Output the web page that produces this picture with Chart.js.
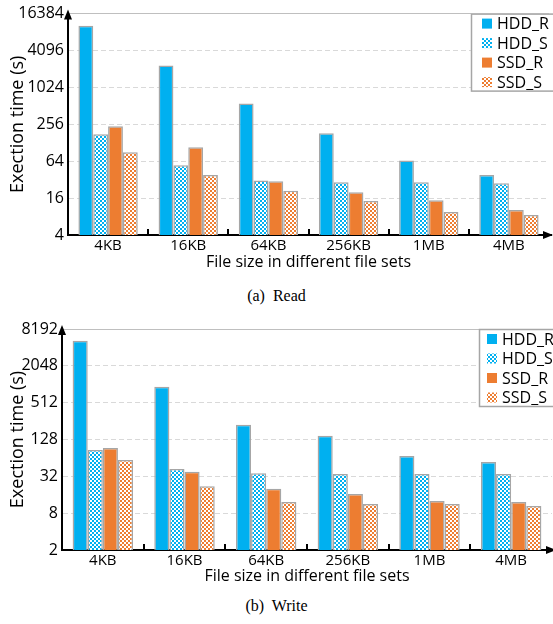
<!DOCTYPE html>
<html>
<head>
<meta charset="utf-8">
<script src="https://cdn.jsdelivr.net/npm/chart.js@4/dist/chart.umd.min.js"></script>
<style>
  body { margin: 0; background: #fff; width: 553px; height: 624px; position: relative; overflow: hidden; }
  canvas { position: absolute; left: 0; }
  .cap { position: absolute; left: 0; width: 553px; text-align: center; font-family: "Liberation Serif", "DejaVu Serif", serif; font-size: 16px; color: #000; }
</style>
</head>
<body>
<canvas id="readChart" width="553" height="280" style="top:0"></canvas>
<div class="cap" style="top:287px">(a)&nbsp; Read</div>
<canvas id="writeChart" width="553" height="292" style="top:300px"></canvas>
<div class="cap" style="top:597px">(b)&nbsp; Write</div>
<script>
const categories = ['4KB', '16KB', '64KB', '256KB', '1MB', '4MB'];
const seriesNames = ['HDD_R', 'HDD_S', 'SSD_R', 'SSD_S'];

const readHddR = [10400, 2340, 560, 183, 66, 38];
const readHddS = [176, 55, 31, 29, 29, 28];
const readSsdR = [238, 108, 30, 20, 14.8, 10.2];
const readSsdS = [90, 38, 21, 14.3, 9.5, 8.5];

const writeHddR = [5250, 930, 222, 147, 69, 55];
const writeHddS = [86, 42, 36, 35, 35, 35];
const writeSsdR = [93, 38, 20, 16.5, 12.7, 12.2];
const writeSsdS = [59, 22, 12.2, 11.3, 11.3, 10.5];

const readTicks = [4, 16, 64, 256, 1024, 4096, 16384];
const writeTicks = [2, 8, 32, 128, 512, 2048, 8192];

const BLUE = '#00b0f0';
const ORANGE = '#ed7d31';
const FONT = '"Open Sans", "Noto Sans", sans-serif';

// small checkerboard fill for the *_S series
function checker(color) {
  const c = document.createElement('canvas');
  c.width = 4; c.height = 4;
  const g = c.getContext('2d');
  g.fillStyle = '#fff';
  g.fillRect(0, 0, 4, 4);
  g.fillStyle = color;
  g.fillRect(0, 0, 2, 2);
  g.fillRect(2, 2, 2, 2);
  return g.createPattern(c, 'repeat');
}

const axisDecor = {
  id: 'axisDecor',
  afterDraw(chart) {
    const { ctx, chartArea: a, scales: { x } } = chart;
    ctx.save();
    ctx.strokeStyle = '#000';
    ctx.fillStyle = '#000';
    ctx.lineWidth = 2;
    // small tick marks between groups, pointing up
    const half = (x.getPixelForTick(1) - x.getPixelForTick(0)) / 2;
    for (let i = 1; i < x.ticks.length; i++) {
      const px = Math.round(x.getPixelForTick(i) - half);
      ctx.beginPath();
      ctx.moveTo(px, a.bottom);
      ctx.lineTo(px, a.bottom - 6);
      ctx.stroke();
    }
    // arrow heads
    ctx.beginPath();
    ctx.moveTo(a.right - 2, a.bottom);
    ctx.lineTo(a.right + 3, a.bottom);
    ctx.stroke();
    ctx.beginPath();
    ctx.moveTo(a.right + 4, a.bottom);
    ctx.lineTo(a.right - 6, a.bottom - 4);
    ctx.lineTo(a.right - 6, a.bottom + 4);
    ctx.closePath();
    ctx.fill();
    ctx.beginPath();
    ctx.moveTo(a.left, a.top - 4);
    ctx.lineTo(a.left - 4, a.top + 6);
    ctx.lineTo(a.left + 4, a.top + 6);
    ctx.closePath();
    ctx.fill();
    ctx.restore();
  }
};

const boxLegend = {
  id: 'boxLegend',
  afterDraw(chart, args, opts) {
    const { ctx, chartArea: a } = chart;
    const left = a.right - opts.offset;
    const top = a.top;
    ctx.save();
    ctx.fillStyle = '#fff';
    ctx.fillRect(left, top, 100, 77);
    ctx.strokeStyle = '#a6a6a6';
    ctx.lineWidth = 1.5;
    ctx.strokeRect(left + 0.5, top + 0.5, 100, 77);
    ctx.font = '16px ' + FONT;
    ctx.textBaseline = 'middle';
    chart.data.datasets.forEach((ds, i) => {
      const cy = top + 10 + i * 19.5;
      ctx.fillStyle = ds.backgroundColor;
      ctx.fillRect(left + opts.sq, cy - 5, 10, 10);
      ctx.fillStyle = '#000';
      ctx.fillText(ds.label, left + opts.sq + 15, cy + 1);
    });
    ctx.restore();
  }
};

function makeChart(id, values, ticks, cfg) {
  const fills = [BLUE, checker(BLUE), ORANGE, checker(ORANGE)];
  return new Chart(document.getElementById(id), {
    type: 'bar',
    data: {
      labels: categories,
      datasets: values.map((v, i) => ({
        label: seriesNames[i],
        data: v,
        backgroundColor: fills[i],
        borderColor: '#a6a6a6',
        borderWidth: 1.5,
        categoryPercentage: 0.74,
        barPercentage: 1.0
      }))
    },
    options: {
      responsive: false,
      animation: false,
      layout: { padding: { top: cfg.padTop, right: cfg.padRight, bottom: cfg.padBottom, left: 0 } },
      plugins: {
        legend: { display: false },
        tooltip: { enabled: false },
        boxLegend: { offset: cfg.legendOffset, sq: cfg.legendSq }
      },
      scales: {
        x: {
          grid: { display: false, drawTicks: false },
          border: { display: true, color: '#000', width: 2 },
          ticks: { color: '#000', padding: 2, font: { family: FONT, size: 15 } },
          title: {
            display: true,
            text: 'File size in different file sets',
            color: '#000',
            padding: 0,
            font: { family: FONT, size: 16, lineHeight: 1 }
          },
          afterFit(scale) { scale.height = cfg.xHeight; }
        },
        y: {
          type: 'logarithmic',
          min: ticks[0],
          max: ticks[ticks.length - 1],
          afterBuildTicks(scale) { scale.ticks = ticks.map(v => ({ value: v })); },
          grid: {
            color: ctx => (ctx.tick && ctx.tick.value === ticks[ticks.length - 1]) ? '#bfbfbf' : '#d9d9d9',
            lineWidth: 1,
            drawTicks: false
          },
          border: {
            display: true,
            color: '#000',
            width: 2,
            dash: ctx => (ctx.tick && ctx.tick.value === ticks[ticks.length - 1]) ? [] : [5, 3]
          },
          ticks: {
            color: '#000',
            padding: 4,
            font: { family: FONT, size: 16 },
            callback: v => String(v)
          },
          title: {
            display: true,
            text: 'Exection time (s)',
            color: '#000',
            padding: { top: 9, bottom: 0 },
            font: { family: FONT, size: 18, lineHeight: 1 }
          },
          afterFit(scale) { scale.width = cfg.yWidth; }
        }
      }
    },
    plugins: [axisDecor, boxLegend]
  });
}

makeChart('readChart', [readHddR, readHddS, readSsdR, readSsdS], readTicks,
  { padTop: 12, padRight: 4, padBottom: 10, xHeight: 35, yWidth: 68, legendOffset: 78, legendSq: 11 });
makeChart('writeChart', [writeHddR, writeHddS, writeSsdR, writeSsdS], writeTicks,
  { padTop: 29, padRight: 1, padBottom: 8, xHeight: 34, yWidth: 62, legendOffset: 73, legendSq: 8 });
</script>
</body>
</html>
